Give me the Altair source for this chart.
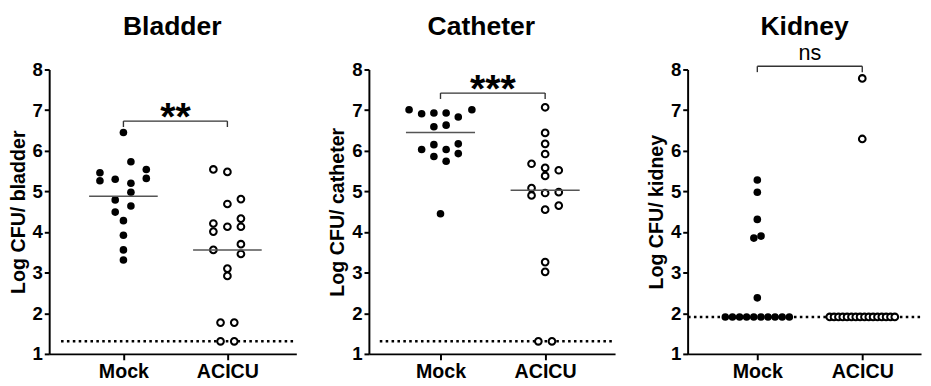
import altair as alt
import pandas as pd

FONT = "Liberation Sans"

# ---------------- data ----------------
panel_titles = ["Bladder", "Catheter", "Kidney"]
group_names = ["Mock", "ACICU"]
y_titles = ["Log CFU/ bladder", "Log CFU/ catheter", "Log CFU/ kidney"]

bladder_mock = [6.45, 5.73, 5.46, 5.26, 5.30, 5.20, 5.54, 5.32, 4.98, 4.79, 4.64, 4.49, 4.28, 3.92, 3.56, 3.31]
bladder_mock_jit = [0, 0.072, -0.226, -0.226, -0.079, 0.072, 0.22, 0.22, 0.072, -0.079, 0.072, -0.079, 0, 0, 0, 0]
bladder_acicu = [5.54, 5.48, 4.81, 4.69, 4.21, 4.01, 4.13, 4.33, 4.13, 3.56, 3.70, 3.46, 3.10, 2.92, 1.77, 1.77, 1.31, 1.31]
bladder_acicu_jit = [-0.135, 0, 0.13, 0, -0.135, -0.135, 0, 0.13, 0.13, -0.135, 0.13, 0.13, 0, 0, -0.066, 0.066, -0.066, 0.066]

catheter_mock = [7.01, 6.91, 6.93, 6.93, 6.83, 7.01, 6.59, 6.63, 6.15, 6.17, 6.03, 6.03, 5.86, 5.93, 5.74, 4.45]
catheter_mock_jit = [-0.30, -0.18, -0.063, 0.054, 0.17, 0.30, -0.063, 0.054, -0.063, 0.17, -0.18, 0.054, -0.063, 0.17, 0.054, 0]
catheter_acicu = [7.07, 6.44, 6.17, 5.92, 5.68, 5.58, 5.38, 5.52, 5.08, 4.90, 4.96, 4.98, 4.55, 4.65, 3.26, 3.02, 1.31, 1.31]
catheter_acicu_jit = [0, 0, 0, 0, -0.13, 0, 0, 0.13, -0.13, -0.13, 0, 0.13, 0, 0.13, 0, 0, -0.065, 0.065]

kidney_mock = [5.28, 4.98, 4.31, 3.85, 3.90, 2.38,
               1.91, 1.91, 1.91, 1.91, 1.91, 1.91, 1.91, 1.91, 1.91, 1.91]
kidney_mock_jit = [0, 0, 0, -0.033, 0.035, 0,
                   -0.305, -0.237, -0.169, -0.102, -0.034, 0.034, 0.102, 0.169, 0.237, 0.305]
kidney_acicu = [7.78, 6.29,
                1.91, 1.91, 1.91, 1.91, 1.91, 1.91, 1.91, 1.91,
                1.91, 1.91, 1.91, 1.91, 1.91, 1.91, 1.91, 1.91]
kidney_acicu_jit = [0, 0,
                    -0.31, -0.269, -0.227, -0.186, -0.145, -0.103, -0.062, -0.021,
                    0.021, 0.062, 0.103, 0.145, 0.186, 0.227, 0.269, 0.31]

center_lines = [[4.88, 3.56], [6.45, 5.03], []]
detection_limits = [1.31, 1.31, 1.91]
bracket_y = [6.73, 7.42, 8.08]
bracket_labels = ["**", "***", "ns"]

# ---------------- layout / style ----------------
x_domains = [[-0.714, 1.663], [-0.684, 1.668], [-0.664, 1.56]]
widths = [252, 251, 238]
title_x = [0.47, 0.39, 0.45]
limit_start = [-0.60, -0.58, -0.66]
HEIGHT = 290

def make_panel(i, mock, mock_j, acicu, acicu_j):
    df = pd.DataFrame({
        "idx": [0] * len(mock) + [1] * len(acicu),
        "value": mock + acicu,
        "jit": mock_j + acicu_j,
    })
    df["x"] = df["idx"] + df["jit"]

    xs = alt.Scale(domain=x_domains[i], nice=False, zero=False)
    ys = alt.Scale(domain=[1, 8], nice=False, zero=False)
    xaxis = alt.Axis(values=[0, 1], title=None, grid=False,
                     labelExpr="datum.value == 0 ? '%s' : '%s'" % (group_names[0], group_names[1]),
                     labelFontSize=20, labelPadding=2, tickSize=6, labelOverlap=False, labelFlush=False)
    yaxis = alt.Axis(values=list(range(1, 9)), title=y_titles[i], grid=False,
                     labelFontSize=19, labelPadding=2, tickSize=5, titlePadding=4, labelFlush=False)

    # detection limit
    lim = pd.DataFrame({"x0": [limit_start[i]], "x1": [x_domains[i][1]], "y": [detection_limits[i]]})
    limit_rule = alt.Chart(lim).mark_rule(color="black", strokeWidth=2.6, strokeDash=[2.6, 3.4]).encode(
        x=alt.X("x0:Q", scale=xs, axis=xaxis), x2="x1:Q",
        y=alt.Y("y:Q", scale=ys, axis=yaxis))

    mock_pts = alt.Chart(df).transform_filter("datum.idx == 0").mark_circle(
        size=60, color="black", opacity=1).encode(x="x:Q", y="value:Q")
    acicu_pts = alt.Chart(df).transform_filter("datum.idx == 1").mark_point(
        shape="circle", size=46, filled=False, fill="white", fillOpacity=1,
        stroke="black", strokeWidth=2.1, opacity=1).encode(x="x:Q", y="value:Q")

    layers = [limit_rule, mock_pts, acicu_pts]

    if center_lines[i]:
        cdf = pd.DataFrame({"idx": [0, 1], "c": center_lines[i]})
        cdf["x0"] = cdf["idx"] - 0.33
        cdf["x1"] = cdf["idx"] + 0.33
        layers.append(alt.Chart(cdf).mark_rule(color="#555555", strokeWidth=1.5).encode(
            x="x0:Q", x2="x1:Q", y="c:Q"))

    bdf = pd.DataFrame({"a": [0], "b": [1], "mid": [0.5], "y": [bracket_y[i]],
                        "ytick": [bracket_y[i] - 0.145], "label": [bracket_labels[i]]})
    layers.append(alt.Chart(bdf).mark_rule(color="#333333", strokeWidth=1.4).encode(
        x="a:Q", x2="b:Q", y="y:Q"))
    layers.append(alt.Chart(bdf).mark_rule(color="#333333", strokeWidth=1.4).encode(
        x="a:Q", y="y:Q", y2="ytick:Q"))
    layers.append(alt.Chart(bdf).mark_rule(color="#333333", strokeWidth=1.4).encode(
        x="b:Q", y="y:Q", y2="ytick:Q"))
    if bracket_labels[i] == "ns":
        lab = alt.Chart(bdf).mark_text(font=FONT, fontSize=22, fontWeight="normal", color="black",
                                       baseline="alphabetic", dy=-6)
    else:
        lab = alt.Chart(bdf).mark_text(font=FONT, fontSize=40, fontWeight="bold", color="black",
                                       baseline="alphabetic", dy=9)
    layers.append(lab.encode(x="mid:Q", y="y:Q", text="label:N"))

    tdf = pd.DataFrame({"tx": [title_x[i]], "ty": [8.84], "t": [panel_titles[i]]})
    layers.append(alt.Chart(tdf).mark_text(font=FONT, fontSize=27, fontWeight="bold", color="black",
                                           baseline="alphabetic").encode(x="tx:Q", y="ty:Q", text="t:N"))

    return alt.layer(*layers).properties(width=widths[i], height=HEIGHT)


p1 = make_panel(0, bladder_mock, bladder_mock_jit, bladder_acicu, bladder_acicu_jit)
p2 = make_panel(1, catheter_mock, catheter_mock_jit, catheter_acicu, catheter_acicu_jit)
p3 = make_panel(2, kidney_mock, kidney_mock_jit, kidney_acicu, kidney_acicu_jit)

chart = alt.hconcat(p1, p2, p3, spacing=30).properties(
    padding={"left": 0, "top": 2, "right": 0, "bottom": 0}
).configure_view(stroke=None).configure_axis(
    domainColor="black", domainWidth=2, tickColor="black", tickWidth=2,
    labelFont=FONT, labelFontWeight="bold", labelColor="black",
    titleFont=FONT, titleFontWeight="bold", titleFontSize=20, titleColor="black"
)

chart.save("out.html", embed_options={"renderer": "svg", "actions": False})
